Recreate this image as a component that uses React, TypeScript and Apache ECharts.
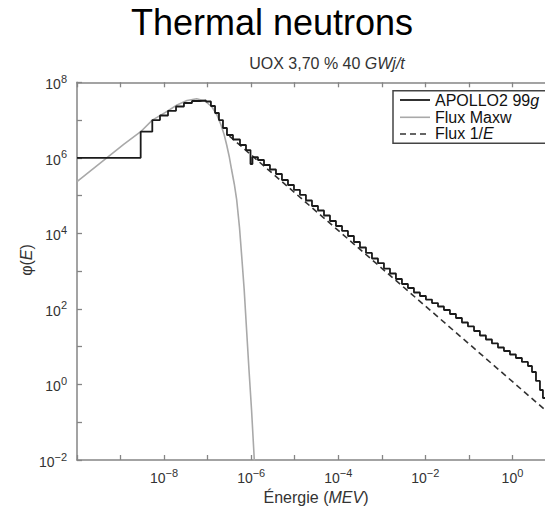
import React, { useEffect, useRef } from "react";
import * as echarts from "echarts";

// APOLLO2 99-group flux (energy in MeV, flux), bin left edges for a step curve
const apolloEnergy = [
  1e-10, 2.9e-9, 5.36e-9, 8.05e-9, 1.23e-8, 1.88e-8, 2.86e-8, 4.37e-8, 6.67e-8, 9.16e-8,
  1.19e-7, 1.48e-7, 1.82e-7, 2.25e-7, 2.78e-7, 3.82e-7, 5.53e-7, 7.6e-7, 9.64e-7, 1.07e-6,
  1.43e-6, 1.97e-6, 2.7e-6, 3.71e-6, 5.09e-6, 7.0e-6, 9.61e-6, 1.32e-5, 1.81e-5, 2.49e-5,
  3.42e-5, 4.7e-5, 6.45e-5, 8.85e-5, 1.22e-4, 1.67e-4, 2.29e-4, 3.15e-4, 4.33e-4, 5.94e-4,
  8.16e-4, 1.12e-3, 1.54e-3, 2.11e-3, 2.9e-3, 3.98e-3, 5.47e-3, 7.51e-3, 1.03e-2, 1.42e-2,
  1.95e-2, 2.67e-2, 3.67e-2, 5.04e-2, 6.92e-2, 9.51e-2, 0.131, 0.179, 0.246, 0.338,
  0.465, 0.638, 0.877, 1.2, 1.65, 2.27, 2.81, 3.47, 4.28, 5.01, 5.87, 8.07, 10,
];
const apolloFlux = [
  1e6, 4.92e6, 1.0e7, 1.32e7, 1.76e7, 2.29e7, 2.83e7, 3.2e7, 3.3e7, 3.1e7,
  2.36e7, 1.54e7, 1.0e7, 6.17e6, 4.03e6, 3.06e6, 2.19e6, 1.61e6, 6.87e5, 1.05e6,
  8.77e5, 6.46e5, 4.91e5, 3.73e5, 2.59e5, 1.91e5, 1.41e5, 1.04e5, 7.43e4, 5.31e4,
  4.04e4, 2.97e4, 2.13e4, 1.57e4, 1.16e4, 8.53e3, 5.92e3, 4.23e3, 3.03e3, 2.16e3,
  1.64e3, 1.17e3, 867, 620, 457, 358, 272, 220, 177, 143,
  116, 93.6, 73.4, 57.5, 43.7, 34.3, 26.0, 19.8, 15.5, 12.2,
  9.53, 7.69, 6.21, 5.02, 3.94, 3.08, 2.14, 1.24, 0.713, 0.438, 0.286, 0.129, 0.085,
];

// Maxwellian flux
const maxwEnergy = [
  1e-10, 5.24e-10, 1.2e-9, 2.9e-9, 5.36e-9, 1.05e-8, 1.98e-8, 3.36e-8, 5.61e-8,
  8.69e-8, 1.26e-7, 1.64e-7, 2.03e-7, 2.38e-7, 2.74e-7, 3.15e-7, 3.56e-7, 4.1e-7, 4.65e-7,
  5.4e-7, 6.15e-7, 6.9e-7, 7.6e-7, 8.91e-7, 1.02e-6, 1.18e-6, 1.26e-6,
];
const maxwFlux = [
  2.34e5, 1.08e6, 2.32e6, 4.92e6, 1.0e7, 1.58e7, 2.51e7, 3.3e7, 3.66e7,
  3.2e7, 2.22e7, 1.36e7, 7.4e6, 4.2e6, 2.19e6, 1.05e6, 4.76e5, 2.0e5, 7.66e4,
  1.4e4, 1.97e3, 3.3e2, 50.9, 2.42, 0.211, 0.01, 0.00316,
];

// 1/E flux
const invEnergy = [3.16e-7, 10];
const invFlux = [3.78e6, 0.119];

// axis decades (exponents) and labelled ones
const xMinExp = -10;
const xMaxExp = 1;
const yMinExp = -2;
const yMaxExp = 8;
const xLabelExps = [-8, -6, -4, -2, 0];
const yLabelExps = [8, 6, 4, 2, 0, -2];

const FONT = '"Liberation Sans", Arial, sans-serif';
const AXIS_COLOR = "#858585";

const toPairs = (xs: number[], ys: number[]) =>
  xs.map((x, i) => [Math.log10(x), Math.log10(ys[i])]);

const powLabel = (shown: number[]) => (v: number) => {
  const e = Math.round(v);
  if (!shown.includes(e)) return "";
  return `{b|10}{s|${e < 0 ? "\u2212" + -e : e}}`;
};

const richPow = {
  b: { fontSize: 14, fontFamily: FONT, color: "#333", verticalAlign: "bottom", lineHeight: 18 },
  s: { fontSize: 11, fontFamily: FONT, color: "#333", verticalAlign: "top", lineHeight: 18 },
};

export default function App() {
  const ref = useRef<HTMLDivElement>(null);
  useEffect(() => {
    if (!ref.current) return;
    const chart = echarts.init(ref.current, undefined, { renderer: "svg" });
    const axisCommon = {
      type: "value",
      interval: 1,
      splitLine: { show: false },
      axisLine: { show: true, onZero: false, lineStyle: { color: AXIS_COLOR, width: 1.5 } },
      axisTick: { show: true, inside: true, length: 5, lineStyle: { color: AXIS_COLOR, width: 1.3 } },
    };
    chart.setOption({
      animation: false,
      backgroundColor: "#fff",
      grid: {
        left: 77,
        top: 82.3,
        width: 479,
        height: 377.7,
        containLabel: false,
        outerBoundsMode: "none",
      },
      xAxis: [
        {
          ...axisCommon,
          position: "bottom",
          min: xMinExp,
          max: xMaxExp,
          axisLabel: { margin: 7, formatter: powLabel(xLabelExps), rich: richPow },
        },
        {
          ...axisCommon,
          position: "top",
          min: xMinExp,
          max: xMaxExp,
          axisLabel: { show: false },
        },
      ],
      yAxis: [
        {
          ...axisCommon,
          position: "left",
          min: yMinExp,
          max: yMaxExp,
          axisLabel: { margin: 10, formatter: powLabel(yLabelExps), rich: richPow },
        },
      ],
      series: [
        {
          name: "Flux Maxw",
          type: "line",
          data: toPairs(maxwEnergy, maxwFlux),
          showSymbol: false,
          symbol: "none",
          lineStyle: { color: "#a9a9a9", width: 1.6 },
          z: 2,
        },
        {
          name: "Flux 1/E",
          type: "line",
          data: toPairs(invEnergy, invFlux),
          showSymbol: false,
          symbol: "none",
          lineStyle: { color: "#333", width: 1.6, type: [6, 4] },
          z: 3,
        },
        {
          name: "APOLLO2 99g",
          type: "line",
          step: "end",
          data: toPairs(apolloEnergy, apolloFlux),
          showSymbol: false,
          symbol: "none",
          lineStyle: { color: "#1a1a1a", width: 1.8 },
          z: 4,
        },
      ],
      graphic: [
        {
          type: "text",
          x: 272,
          y: 22,
          style: {
            text: "Thermal neutrons",
            fontSize: 36,
            fontFamily: FONT,
            fill: "#000",
            textAlign: "center",
            textVerticalAlign: "middle",
          },
        },
        {
          type: "text",
          x: 327,
          y: 63,
          style: {
            text: "UOX 3,70 % 40 {i|GWj/t}",
            fontSize: 16,
            fontFamily: FONT,
            fill: "#333",
            textAlign: "center",
            textVerticalAlign: "middle",
            rich: { i: { fontSize: 16, fontFamily: FONT, fontStyle: "italic", color: "#333" } },
          },
        },
        {
          type: "text",
          x: 26,
          y: 260,
          rotation: Math.PI / 2,
          style: {
            text: "\u03c6({i|E})",
            fontSize: 16,
            fontFamily: FONT,
            fill: "#333",
            textAlign: "center",
            textVerticalAlign: "middle",
            rich: { i: { fontSize: 16, fontFamily: FONT, fontStyle: "italic", color: "#333" } },
          },
        },
        {
          type: "text",
          x: 316,
          y: 497,
          style: {
            text: "\u00c9nergie ({i|MEV})",
            fontSize: 16,
            fontFamily: FONT,
            fill: "#333",
            textAlign: "center",
            textVerticalAlign: "middle",
            rich: { i: { fontSize: 16, fontFamily: FONT, fontStyle: "italic", color: "#333" } },
          },
        },
        {
          type: "rect",
          shape: { x: 393, y: 90.7, width: 175, height: 52.6 },
          style: { fill: "#fff", stroke: "#444", lineWidth: 1.5 },
          z: 10,
        },
        {
          type: "line",
          shape: { x1: 400, y1: 100, x2: 430, y2: 100 },
          style: { stroke: "#1a1a1a", lineWidth: 1.8 },
          z: 11,
        },
        {
          type: "line",
          shape: { x1: 400, y1: 117.3, x2: 430, y2: 117.3 },
          style: { stroke: "#a9a9a9", lineWidth: 1.6 },
          z: 11,
        },
        {
          type: "line",
          shape: { x1: 400, y1: 134, x2: 430, y2: 134 },
          style: { stroke: "#333", lineWidth: 1.6, lineDash: [6, 4] },
          z: 11,
        },
        {
          type: "text",
          x: 435,
          y: 100,
          z: 11,
          style: {
            text: "APOLLO2 99{i|g}",
            fontSize: 16,
            fontFamily: FONT,
            fill: "#111",
            textVerticalAlign: "middle",
            rich: { i: { fontSize: 16, fontFamily: FONT, fontStyle: "italic", color: "#111" } },
          },
        },
        {
          type: "text",
          x: 435,
          y: 117,
          z: 11,
          style: {
            text: "Flux Maxw",
            fontSize: 16,
            fontFamily: FONT,
            fill: "#111",
            textVerticalAlign: "middle",
          },
        },
        {
          type: "text",
          x: 435,
          y: 133.5,
          z: 11,
          style: {
            text: "Flux 1/{i|E}",
            fontSize: 16,
            fontFamily: FONT,
            fill: "#111",
            textVerticalAlign: "middle",
            rich: { i: { fontSize: 16, fontFamily: FONT, fontStyle: "italic", color: "#111" } },
          },
        },
      ],
    });
    return () => chart.dispose();
  }, []);
  return (
    <div
      ref={ref}
      style={{ position: "fixed", left: 0, top: 0, width: 545, height: 509, overflow: "hidden" }}
    />
  );
}
